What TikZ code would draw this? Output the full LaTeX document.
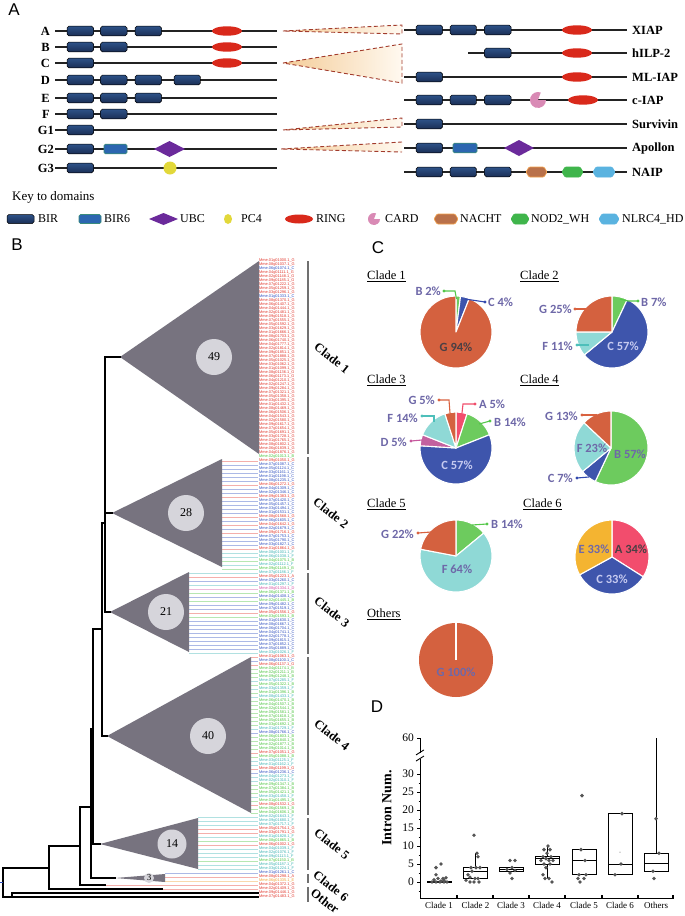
\documentclass[tikz,border=0pt]{standalone}
\usepackage{fontspec}
\setmainfont{Liberation Serif}
\newfontfamily\arialf{Liberation Sans}
\newfontfamily\calib{Carlito}
\usetikzlibrary{shapes.geometric}
% domain colours
\definecolor{birT}{HTML}{2E5288}
\definecolor{birD}{HTML}{1A2E55}
\definecolor{bsixc}{HTML}{2C66B0}
\definecolor{bsixb}{HTML}{3A8C7C}
\definecolor{ubcc}{HTML}{6B2A9B}
\definecolor{pcfc}{HTML}{E2D83A}
\definecolor{ringc}{HTML}{D9291B}
\definecolor{cardc}{HTML}{D98AB5}
\definecolor{nachtc}{HTML}{B9714A}
\definecolor{nachtb}{HTML}{F2A14A}
\definecolor{nodc}{HTML}{3FB54B}
\definecolor{nlrcc}{HTML}{5AB3E0}
\definecolor{dashc}{HTML}{A23B2C}
\definecolor{trL}{HTML}{F4CC98}
\definecolor{trR}{HTML}{FFF9F0}
\definecolor{trif}{HTML}{77737F}
\definecolor{circf}{HTML}{D6D5DB}
\definecolor{barc}{HTML}{707070}
% pie colours
\definecolor{pG}{HTML}{D4613F}
\definecolor{pB}{HTML}{6DCB5E}
\definecolor{pC}{HTML}{3E55AC}
\definecolor{pF}{HTML}{8FD9D6}
\definecolor{pA}{HTML}{F24D6D}
\definecolor{pD}{HTML}{C3619F}
\definecolor{pE}{HTML}{F4B431}
\definecolor{labc}{HTML}{6E68A8}
\definecolor{darkc}{HTML}{4B3F44}
\definecolor{lavc}{HTML}{C6CAF0}
\definecolor{lG}{HTML}{D9613F}
\definecolor{lB}{HTML}{55C84A}
\definecolor{lC}{HTML}{3249AE}
\definecolor{lF}{HTML}{4DBFBA}
\definecolor{lA}{HTML}{F04D6B}
\definecolor{lD}{HTML}{C6579D}
% tip colours
\definecolor{tipr}{HTML}{E2372C}
\definecolor{tipa}{HTML}{E2372C}
\definecolor{tipb}{HTML}{3050C0}
\definecolor{tipg}{HTML}{4BC43F}
\definecolor{tipt}{HTML}{3DB3B3}
\definecolor{tipp}{HTML}{D24FA3}
\definecolor{tipo}{HTML}{F0A032}
\definecolor{ptc}{HTML}{555555}
\def\tipLr{G}\def\tipLa{A}\def\tipLb{C}\def\tipLg{B}\def\tipLt{F}\def\tipLp{D}\def\tipLo{E}

\tikzset{
  pline/.style={line width=2.3pt, draw={rgb,255:red,35;green,35;blue,35}},
  birst/.style={draw=black, line width=0.5pt, rounded corners=1.8pt, top color=birT, bottom color=birD},
  bsixst/.style={draw=bsixb, line width=0.7pt, rounded corners=1.5pt, fill=bsixc},
  dashst/.style={draw=dashc, line width=0.9pt, dash pattern=on 4pt off 2.5pt},
  rowlab/.style={font=\bfseries\fontsize{12.5}{13}\selectfont, inner sep=0pt},
  keylab/.style={font=\fontsize{12}{12}\selectfont, anchor=west, inner sep=0pt},
  panel/.style={font=\arialf\fontsize{17}{17}\selectfont, inner sep=0pt},
  treel/.style={line width=1.3pt, black, line cap=rect},
  tri/.style={fill=trif},
  numc/.style={circle, fill=circf, inner sep=0pt, font=\fontsize{12}{12}\selectfont},
  cbar/.style={draw=barc, line width=1.8pt},
  cladelab/.style={font=\bfseries\fontsize{12.5}{13}\selectfont, rotate=-38, inner sep=0pt},
  dotsty/.style={line width=0.75pt},
  tipnode/.style={anchor=west, inner sep=0pt, font=\arialf\fontsize{3.9}{3.9}\selectfont},
  ptitle/.style={anchor=west, inner sep=0pt, font=\fontsize{12.5}{13}\selectfont},
  plab/.style={inner sep=0pt, font=\calib\bfseries\fontsize{12.5}{13}\selectfont, text=labc},
  lead/.style={line width=1.1pt},
  boxs/.style={draw=black, line width=0.8pt},
  axs/.style={draw=black, line width=0.9pt},
  dlab/.style={font=\fontsize{11.5}{12}\selectfont, inner sep=0pt},
}

\newcommand\birb[2]{\draw[birst] (#1,#2-4.8) rectangle (#1+26.5,#2+4.8);}
\newcommand\ringd[2]{\fill[ringc] (#1+15,#2) ellipse[x radius=15, y radius=4.7];}
\newcommand\bsix[3]{\draw[bsixst] (#1,#3-4.8) rectangle (#2,#3+4.8);}
\newcommand\ubcd[4]{\fill[ubcc] (#1-#3,#2) -- (#1,#2-#4) -- (#1+#3,#2) -- (#1,#2+#4) -- cycle;}
\newcommand\pcf[3]{\fill[pcfc] (#1,#2) circle[radius=#3];}
\newcommand\cardd[3]{\begin{scope}[shift={(#1,#2)},yscale=-1]\fill[cardc] (0,0) -- (70:#3) arc[start angle=70,end angle=360,radius=#3] -- cycle;\end{scope}}
\newcommand\hexd[5]{\filldraw[fill=#4,draw=#5,line width=0.6pt,rounded corners=1pt] (#1,#3) -- (#1+3,#3-5) -- (#2-3,#3-5) -- (#2,#3) -- (#2-3,#3+5) -- (#1+3,#3+5) -- cycle;}
\newcommand\pslice[4]{\filldraw[fill=#3,draw=white,line width=1.1pt,line join=round] (0,0) -- (#1:#4) arc[start angle=#1,end angle=#2,radius=#4] -- cycle;}
\newcommand\tiprows[2]{%
  \foreach \c [count=\k from #1] in {#2}{%
    \edef\tcol{tip\c}%
    \pgfmathsetmacro\yy{261+4*\k}%
    \pgfmathtruncatemacro\tipch{mod(\k*7,9)+1}%
    \pgfmathtruncatemacro\tipgn{mod(\k*37,900)+1000}%
    \node[tipnode,text=\tcol] at (259,\yy) {Mme.0\tipch g0\tipgn.1\_\csname tipL\c\endcsname};
  }}
\newcommand\dotrows[3]{\foreach \k in {#3} \draw[dotsty,#1] (#2,{261+4*\k}) -- (258,{261+4*\k});}

\begin{document}
\begin{tikzpicture}[x=1pt,y=-1pt]
\useasboundingbox[fill=white] (0,0) rectangle (685,916);

%================ PANEL A ================
\node[panel] (pA) at (14,10) {A};
% left rows
\foreach \lab/\yy/\xr in {A/31/50,B/47/50,C/63/50,D/80/50,E/98/50,F/114/50,G1/130/54,G2/149/54,G3/168/54}{
  \draw[pline] (55,\yy) -- (277,\yy);
  \node[rowlab,anchor=east] at (\xr,\yy) {\lab};
}
\birb{67}{31}\birb{100.5}{31}\birb{135}{31}\ringd{212}{31}
\birb{67}{47}\birb{100.5}{47}\ringd{212}{47}
\birb{67}{63}\ringd{212}{63}
\birb{67}{80}\birb{100.5}{80}\birb{135}{80}\birb{174}{80}
\birb{67}{98}\birb{100.5}{98}\birb{135}{98}
\birb{67}{114}\birb{100.5}{114}
\birb{67}{130}
\birb{67}{149}\bsix{104}{127}{149}\ubcd{169.5}{149}{15.5}{8}
\birb{67}{168}\pcf{170}{168}{6.5}

% dashed triangles
\shade[left color=trL,right color=trR] (283,31) -- (402,25) -- (402,34) -- cycle;
\draw[dashst] (283,31) -- (402,25) -- (402,34) -- cycle;
\shade[left color=trL,right color=trR] (283,63) -- (402,44) -- (402,83) -- cycle;
\draw[dashst] (283,63) -- (402,44) -- (402,83) -- cycle;
\shade[left color=trL,right color=trR] (283,130) -- (402,118) -- (402,127) -- cycle;
\draw[dashst] (283,130) -- (402,118) -- (402,127) -- cycle;
\shade[left color=trL,right color=trR] (281,149) -- (402,142) -- (402,152) -- cycle;
\draw[dashst] (402,142) -- (281,149) -- (402,152);

% right rows
\foreach \lab/\yy/\xs in {XIAP/30/404,hILP-2/53/468,ML-IAP/77/404,c-IAP/100/404,Survivin/124/404,Apollon/148/404,NAIP/172/404}{
  \draw[pline] (\xs,\yy) -- (627,\yy);
  \node[rowlab,anchor=west] at (632,\yy) {\lab};
}
\birb{416}{30}\birb{450}{30}\birb{484.5}{30}\ringd{562}{30}
\birb{484.5}{53}\ringd{562}{53}
\birb{416}{77}\ringd{562}{77}
\birb{416}{100}\birb{450}{100}\birb{484.5}{100}\cardd{538}{100}{8}\ringd{568}{100}
\birb{416}{124}
\birb{416}{148}\bsix{453}{477}{148}\ubcd{519}{148}{15}{8}
\birb{416}{172}\birb{450}{172}\birb{484.5}{172}
\hexd{526}{547}{172}{nachtc}{nachtb}
\hexd{562}{583}{172}{nodc}{nodc}
\hexd{593}{615}{172}{nlrcc}{nlrcc}

% key
\node[keylab,font=\fontsize{13}{13}\selectfont] (key) at (12,197) {Key to domains};
\draw[birst] (7,214.5) rectangle (34,223.5);   \node[keylab] at (38,219) {BIR};
\draw[bsixst] (79,214.5) rectangle (101,223.5); \node[keylab] at (104,219) {BIR6};
\ubcd{163.5}{219}{14.5}{6}                    \node[keylab] at (180,219) {UBC};
\fill[pcfc] (228,219) ellipse[x radius=4, y radius=5];  \node[keylab] at (241,219) {PC4};
\fill[ringc] (299,219) ellipse[x radius=14, y radius=4.5]; \node[keylab] at (316,219) {RING};
\cardd{374}{219}{6}                           \node[keylab] at (385,219) {CARD};
\hexd{434}{458}{219}{nachtc}{nachtb}          \node[keylab] at (460,219) {NACHT};
\hexd{511}{529}{219}{nodc}{nodc}              \node[keylab] at (531,219) {NOD2\_WH};
\hexd{599}{619}{219}{nlrcc}{nlrcc}            \node[keylab] at (622,219) {NLRC4\_HD};

%================ PANEL B ================
\node[panel] (pB) at (17,245) {B};
% leader lines from collapsed clades to tips (pale, by colour)
\dotrows{tipr!40!white}{222}{50,56,59,64,66,68,72}
\dotrows{tipb!40!white}{222}{51,52,53,54,55,57,58,60,61,62,63,65,67,69,70,71}
\dotrows{tipt!40!white}{222}{73,74,76}
\dotrows{tipg!40!white}{222}{75,77}
\dotrows{tipt!40!white}{189}{78,81,98}
\dotrows{tipr!40!white}{189}{79,88}
\dotrows{tipb!40!white}{189}{80,84,86,87,90,91,92,93,94,95,96,97}
\dotrows{tipp!40!white}{189}{82}
\dotrows{tipg!40!white}{189}{83,85,89}
\dotrows{tipr!40!white}{251}{99,101,123,127,136}
\dotrows{tipb!40!white}{251}{100,118,128}
\dotrows{tipt!40!white}{251}{105,107,109,117,125,126,129,130,134}
\dotrows{tipg!40!white}{251}{102,103,104,106,108,110,111,112,113,114,115,116,119,120,121,122,124,131,132,133,135,137,138}
\dotrows{tipt!40!white}{198}{139,140,141,144,147,148,149,151,152}
\dotrows{tipr!40!white}{198}{142,143,146}
\dotrows{tipg!40!white}{198}{145,150}
\dotrows{tipb!40!white}{165}{153}
\dotrows{tipr!40!white}{165}{154}
\dotrows{tipo!40!white}{165}{155}
\dotrows{tipr!40!white}{105}{156}
\dotrows{tipr!40!white}{162}{157}
% tip labels
\tiprows{0}{r,r,b,r,r,r,r,r,r,b,r,r,r,r,r,r,r,r,r,r,r,r,r,r,r,r,r,r,r,r,r,r,r,r,r,r,r,r,r,r,r,r,r,r,r,r,r,r,r}
\tiprows{49}{g}
\tiprows{50}{r,b,b,b,b,b,r,b,b,r,b,b,b,b,r,b,r,b,r,b,b,b,r,t,t,g,t,g}
\tiprows{78}{t,a,b,t,p,g,b,g,b,b,r,g,b,b,b,b,b,b,b,b,t}
\tiprows{99}{r,b,r,g,g,g,t,g,t,g,t,g,g,g,g,g,g,g,t,b,g,g,g,g,r,g,t,t,r,b,t,t,g,g,g,t,g,r,g,g}
\tiprows{139}{t,t,t,r,r,t,g,r,t,t,t,g,t,t}
\tiprows{153}{b,a,o}
\tiprows{156}{r,r,r,r}

% collapsed clades
\fill[tri] (120,357) -- (259,261) -- (259,454) -- cycle;
\fill[tri] (112,513) -- (222,459) -- (222,567) -- cycle;
\fill[tri] (110,612) -- (189,572) -- (189,652) -- cycle;
\fill[tri] (107,736) -- (251,657) -- (251,813) -- cycle;
\fill[tri] (100,844) -- (198,818) -- (198,869) -- cycle;
\fill[tri] (115,878) -- (165,874) -- (165,882) -- cycle;
\node[numc,minimum size=36pt] (n49) at (214,357) {49};
\node[numc,minimum size=36pt] (n28) at (186,513) {28};
\node[numc,minimum size=36pt] (n21) at (166,612) {21};
\node[numc,minimum size=36pt] (n40) at (208,736) {40};
\node[numc,minimum size=29pt] (n14) at (172,844) {14};
\node[numc,minimum size=10pt,font=\fontsize{9}{9}\selectfont] (n3) at (149,878) {3};

% tree
\draw[treel] (105,357) -- (120,357);
\draw[treel] (105,357) -- (105,612) -- (110,612);
\draw[treel] (105,513) -- (112,513);
\draw[treel] (102,523) -- (105,523);
\draw[treel] (102,523) -- (102,736) -- (107,736);
\draw[treel] (93,629) -- (102,629);
\draw[treel] (93,629) -- (93,844) -- (100,844);
\draw[treel] (91,729) -- (93,729);
\draw[treel] (91,729) -- (91,878) -- (115,878);
\draw[treel] (80,807) -- (91,807);
\draw[treel] (80,807) -- (80,885) -- (105,885);
\draw[treel] (49,846) -- (80,846);
\draw[treel] (49,846) -- (49,889) -- (162,889);
\draw[treel] (3,868) -- (49,868);
\draw[treel] (3,868) -- (3,897) -- (258,897);
\draw[treel] (12,897) -- (12,893) -- (258,893);
\draw[tipb,line width=0.8pt] (0,882) -- (3,882);

% clade bars and labels
\draw[cbar] (308,261) -- (308,454);
\draw[cbar] (308,457) -- (308,570);
\draw[cbar] (308,573) -- (308,654);
\draw[cbar] (308,657) -- (308,815);
\draw[cbar] (308,818) -- (308,870);
\draw[cbar] (308,874) -- (308,883);
\draw[cbar] (308,887) -- (308,902);
\node[cladelab] (cl1) at (332,358) {Clade 1};
\node[cladelab] (cl2) at (331,513) {Clade 2};
\node[cladelab] (cl3) at (332,612) {Clade 3};
\node[cladelab] (cl4) at (332,735) {Clade 4};
\node[cladelab] (cl5) at (332,844) {Clade 5};
\node[cladelab] (cl6) at (331,886) {Clade 6};
\node[cladelab] (clo) at (325,901) {Other};

%================ PANEL C ================
\node[panel] (pC) at (378,248) {C};
\node[ptitle] at (367,276) {\underline{Clade 1}};
\node[ptitle] at (520,276) {\underline{Clade 2}};
\node[ptitle] at (367,380) {\underline{Clade 3}};
\node[ptitle] at (520,380) {\underline{Clade 4}};
\node[ptitle] at (367,504) {\underline{Clade 5}};
\node[ptitle] at (523,504) {\underline{Clade 6}};
\node[ptitle] at (367,614) {\underline{Others}};

% Clade 1
\begin{scope}[shift={(456,332)},yscale=-1]
\pslice{90}{82.8}{pB}{36}\pslice{82.8}{68.4}{pC}{36}\pslice{68.4}{-270}{pG}{36}
\end{scope}
\draw[lB,lead] (444,291) -- (455,291) -- (456.5,299); \fill[lB] (444,291) circle[radius=1.7];
\node[plab,anchor=east] at (441,291) {B 2\%};
\draw[lC,lead] (465,299) -- (485,302); \fill[lC] (485,302) circle[radius=1.7];
\node[plab,anchor=west] at (488,302) {C 4\%};
\node[plab,text=darkc] at (456,347) {G 94\%};

% Clade 2
\begin{scope}[shift={(612,332)},yscale=-1]
\pslice{90}{64.8}{pB}{36}\pslice{64.8}{-140.4}{pC}{36}\pslice{-140.4}{-180}{pF}{36}\pslice{-180}{-270}{pG}{36}
\end{scope}
\draw[lB,lead] (620,299) -- (628,301) -- (638,301); \fill[lB] (638,301) circle[radius=1.7];
\node[plab,anchor=west] at (641,302) {B 7\%};
\draw[lG,lead] (575,309) -- (588,309); \fill[lG] (575,309) circle[radius=1.7];
\node[plab,anchor=east] at (572,309) {G 25\%};
\draw[lF,lead] (577,345) -- (589,345); \fill[lF] (577,345) circle[radius=1.7];
\node[plab,anchor=east] at (573,346) {F 11\%};
\node[plab,text=lavc] at (623,346) {C 57\%};

% Clade 3
\begin{scope}[shift={(456,448)},yscale=-1]
\pslice{90}{72}{pA}{36}\pslice{72}{21.6}{pB}{36}\pslice{21.6}{-183.6}{pC}{36}
\pslice{-183.6}{-201.6}{pD}{36}\pslice{-201.6}{-252}{pF}{36}\pslice{-252}{-270}{pG}{36}
\end{scope}
\draw[lG,lead] (439,400) -- (449,400) -- (450,413); \fill[lG] (439,400) circle[radius=1.7];
\node[plab,anchor=east] at (435,400) {G 5\%};
\draw[lA,lead] (462,413) -- (463,404) -- (475,404); \fill[lA] (475,404) circle[radius=1.7];
\node[plab,anchor=west] at (479,404) {A 5\%};
\draw[lB,lead] (479,424) -- (490,421); \fill[lB] (490,421) circle[radius=1.7];
\node[plab,anchor=west] at (494,422) {B 14\%};
\draw[lF,lead] (422,416) -- (434,416) -- (434,422); \fill[lF] (422,416) circle[radius=1.7];
\node[plab,anchor=east] at (418,418) {F 14\%};
\draw[lD,lead] (411,441) -- (422,440); \fill[lD] (411,441) circle[radius=1.7];
\node[plab,anchor=east] at (407,442) {D 5\%};
\node[plab,text=lavc] at (457,465) {C 57\%};

% Clade 4
\begin{scope}[shift={(611,448)},yscale=-1]
\pslice{90}{-115.2}{pB}{37}\pslice{-115.2}{-140.4}{pC}{37}\pslice{-140.4}{-223.2}{pF}{37}\pslice{-223.2}{-270}{pG}{37}
\end{scope}
\draw[lG,lead] (582,415) -- (597,415); \fill[lG] (582,415) circle[radius=1.7];
\node[plab,anchor=east] at (578,416) {G 13\%};
\draw[lC,lead] (577,478) -- (589,477); \fill[lC] (577,478) circle[radius=1.7];
\node[plab,anchor=east] at (573,478) {C 7\%};
\node[plab] at (592,448) {F 23\%};
\node[plab] at (630,454) {B 57\%};

% Clade 5
\begin{scope}[shift={(456,556)},yscale=-1]
\pslice{90}{39.6}{pB}{36}\pslice{39.6}{-190.8}{pF}{36}\pslice{-190.8}{-270}{pG}{36}
\end{scope}
\draw[lG,lead] (418,533) -- (431,532); \fill[lG] (418,533) circle[radius=1.7];
\node[plab,anchor=east] at (414,534) {G 22\%};
\draw[lB,lead] (472,525) -- (487,524); \fill[lB] (487,524) circle[radius=1.7];
\node[plab,anchor=west] at (491,524) {B 14\%};
\node[plab] at (457,569) {F 64\%};

% Clade 6
\begin{scope}[shift={(612,557)},yscale=-1]
\pslice{90}{-32.4}{pA}{37}\pslice{-32.4}{-151.2}{pC}{37}\pslice{-151.2}{-270}{pE}{37}
\end{scope}
\node[plab] at (594,549) {E 33\%};
\node[plab,text=darkc] at (631,549) {A 34\%};
\node[plab,text=lavc] at (612,579) {C 33\%};

% Others
\fill[pG] (456,660) circle[radius=37];
\draw[white,line width=1.1pt] (456,660) -- (456,622);
\node[plab] at (456,672) {G 100\%};

%================ PANEL D ================
\node[panel] (pD) at (377,707) {D};
\node[font=\bfseries\fontsize{14}{14}\selectfont, rotate=90, inner sep=0pt] (ylab) at (387,808) {Intron Num.};
\begin{scope}[shift={(0,882)},y=3.6pt]
  % axes
  \draw[axs] (420,-4.7) -- (420,34.2);
  \draw[axs] (420,35.9) -- (420,40);
  \draw[axs] (416,33.6) -- (424,35.0);
  \draw[axs] (416,35.3) -- (424,36.7);
  \draw[axs] (420,-4.7) -- (673,-4.7);
  \foreach \xt in {457,493,529,565,602,638,673} \draw[line width=1.4pt] (\xt,-4.7) -- (\xt,-3.7);
  \foreach \v/\l in {0/0,5/5,10/10,15/15,20/20,25/25,30/30,40/60}{
    \draw[axs] (417,\v) -- (420,\v);
    \node[dlab,anchor=east] at (414,\v) {\l};
  }
  \foreach \v in {-2.5,2.5,7.5,12.5,17.5,22.5,27.5} \draw[line width=0.5pt] (418.5,\v) -- (420,\v);
  \foreach \xc/\l in {439/Clade 1,475.5/Clade 2,511/Clade 3,547/Clade 4,584/Clade 5,620/Clade 6,656/Others}
    \node[font=\fontsize{9}{9}\selectfont, inner sep=0pt] at (\xc,-6.4) {\l};
  % whiskers
  \draw[boxs] (475.5,4) -- (475.5,8);
  \draw[boxs] (547,7) -- (547,10);
  \draw[boxs] (547,5) -- (547,1);
  \draw[boxs] (656,8) -- (656,40);
  % boxes
  \foreach \xc/\qa/\md/\qb in {439/0/0/0.15,475.5/1/3/4,511/3/3.5/4,547/5/6.5/7,584/2/6/9,620/2/5/19,656/3/5.3/8}{
    \draw[boxs] ({\xc-12},\qa) rectangle ({\xc+12},\qb);
    \draw[boxs] ({\xc-12},\md) -- ({\xc+12},\md);
  }
  % points
  \foreach \px/\pv in {441/5,436/4,436/2,443/1,438/1,444/0.5,432/0,436/0,440/0,444/0,447/0,434/0.6,441/0.3,446/1.2,
     474/13,477/8,478/7,471/4,476/4,480/4,472/3,468/2,478/1,470/0,474/0,479/0,466/0.5,475/1,470/1.3,
     510/6,515/6,512/4,507/3.5,515/3.2,510/2.5,512/1,
     548/10,544/9,550/9,547/8,543/7,551/7,546/6.5,549/6,541/6,553/6,544/5,550/5,546/4,543/2,545/1,549/1,552/0,
     582/24,581/9,585/6,579/2,586/2,578/1,584/1,580/0,
     622/19,621/5,615/2,
     656/17.6,659/8,653/3,654/1}
    \fill[ptc] (\px,\pv) circle[radius=1.9pt];
  \fill[ptc] (620,8.3) circle[radius=0.6pt];
\end{scope}
\end{tikzpicture}
\end{document}
